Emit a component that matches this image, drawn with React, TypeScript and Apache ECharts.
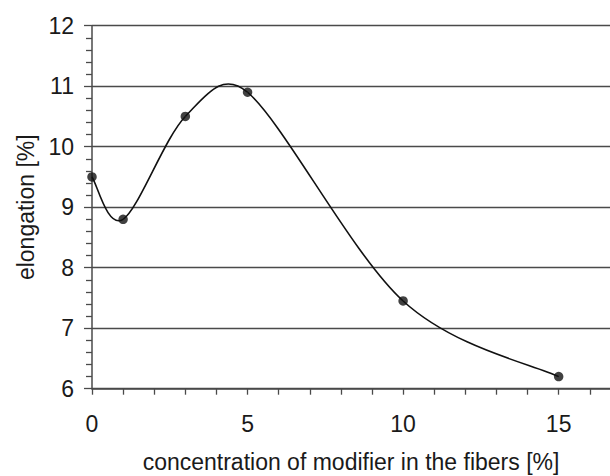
import React, { useEffect, useRef } from "react";
import * as echarts from "echarts";

const concentration = [0, 1, 3, 5, 10, 15];
const elongation = [9.5, 8.8, 10.5, 10.9, 7.45, 6.2];
const xLabelValues = [0, 5, 10, 15];
const yMin = 6;
const yMax = 12;
const xMin = 0;
const xMax = 16.65;

const xTitle = "concentration of modifier in the fibers [%]";
const yTitle = "elongation [%]";

const FONT = "'Liberation Sans', Arial, Helvetica, sans-serif";
const TEXT = "#1a1a1a";
const AXIS = "#4a4a4a";
const CURVE = "#111111";

// Excel-style smoothed segment (Bezier) between data points i and i+1,
// control points derived from neighbouring data points in pixel space.
function renderSegment(params: any, api: any) {
  const i = params.dataIndex;
  const n = concentration.length;
  if (i >= n - 1) return null;
  const pt = (j: number) => {
    const k = Math.max(0, Math.min(n - 1, j));
    return api.coord([concentration[k], elongation[k]]);
  };
  const p0 = pt(i - 1);
  const p1 = pt(i);
  const p2 = pt(i + 1);
  const p3 = pt(i + 2);
  const dist = (a: number[], b: number[]) => Math.hypot(a[0] - b[0], a[1] - b[1]);
  const d02 = dist(p0, p2);
  const d12 = dist(p1, p2);
  const d13 = dist(p1, p3);
  const f = d02 / 6 < d12 / 2 ? 1 / 6 : d12 / (2 * d02);
  const g = d13 / 6 < d12 / 2 ? 1 / 6 : d12 / (2 * d13);
  return {
    type: "bezierCurve",
    shape: {
      x1: p1[0],
      y1: p1[1],
      x2: p2[0],
      y2: p2[1],
      cpx1: p1[0] + f * (p2[0] - p0[0]),
      cpy1: p1[1] + f * (p2[1] - p0[1]),
      cpx2: p2[0] - g * (p3[0] - p1[0]),
      cpy2: p2[1] - g * (p3[1] - p1[1]),
    },
    style: { stroke: CURVE, lineWidth: 1.6, fill: null },
    silent: true,
  };
}

export default function App() {
  const ref = useRef<HTMLDivElement>(null);
  useEffect(() => {
    if (!ref.current) return;
    const chart = echarts.init(ref.current, null, { renderer: "svg" });
    const points = concentration.map((c, i) => [c, elongation[i]]);
    chart.setOption({
      animation: false,
      backgroundColor: "#ffffff",
      grid: {
        left: 92,
        top: 25.7,
        bottom: 87.3,
        right: 0,
        containLabel: false,
        outerBoundsMode: "none",
      },
      xAxis: {
        type: "value",
        min: xMin,
        max: xMax,
        interval: 1,
        name: xTitle,
        nameLocation: "middle",
        nameGap: 62,
        nameTextStyle: { fontFamily: FONT, fontSize: 23, color: TEXT },
        axisLine: { show: true, onZero: false, lineStyle: { color: AXIS, width: 1.5 } },
        axisTick: { show: true, inside: false, length: 6, lineStyle: { color: AXIS, width: 1.3 } },
        axisLabel: {
          margin: 24,
          fontFamily: FONT,
          fontSize: 23,
          color: TEXT,
          showMaxLabel: false,
          formatter: (v: number) => (xLabelValues.includes(v) ? String(v) : ""),
        },
        splitLine: { show: false },
      },
      yAxis: {
        type: "value",
        min: yMin,
        max: yMax,
        interval: 1,
        name: yTitle,
        nameLocation: "middle",
        nameGap: 43,
        nameRotate: 90,
        nameTextStyle: { fontFamily: FONT, fontSize: 23, color: TEXT },
        axisLine: { show: true, lineStyle: { color: AXIS, width: 1.5 } },
        axisTick: { show: true, inside: false, length: 8, lineStyle: { color: AXIS, width: 1.3 } },
        minorTick: { show: true, splitNumber: 5, length: 6, lineStyle: { color: AXIS, width: 1.3 } },
        axisLabel: { margin: 18, fontFamily: FONT, fontSize: 23, color: TEXT },
        splitLine: { show: true, lineStyle: { color: AXIS, width: 1.4 } },
      },
      series: [
        {
          type: "custom",
          data: points,
          encode: { x: 0, y: 1 },
          renderItem: renderSegment,
          z: 4,
          silent: true,
        },
        {
          type: "scatter",
          data: points,
          symbol: "circle",
          symbolSize: 9.5,
          itemStyle: { color: CURVE },
          z: 5,
        },
      ],
    });
    return () => chart.dispose();
  }, []);
  return (
    <div
      ref={ref}
      style={{ position: "fixed", left: 0, top: 0, width: 610, height: 476 }}
    />
  );
}
